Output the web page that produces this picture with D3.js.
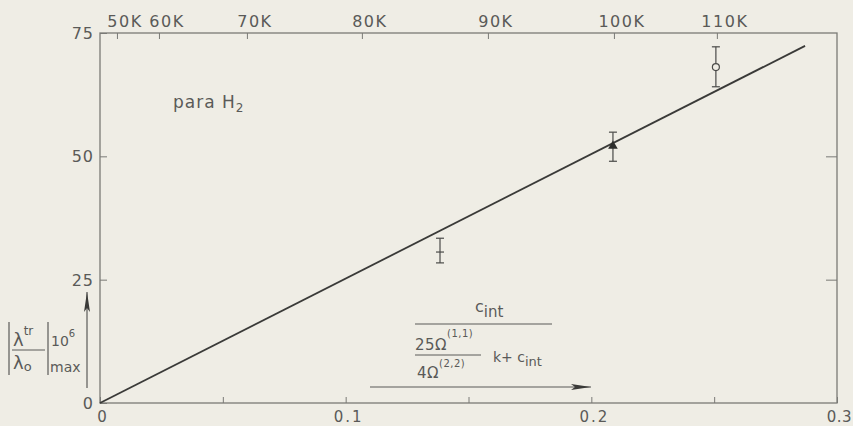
<!DOCTYPE html>
<html>
<head>
<meta charset="utf-8">
<script src="https://cdn.jsdelivr.net/npm/d3@7"></script>
<style>
  body { margin: 0; background: #efede5; }
  svg text { font-family: "DejaVu Sans", sans-serif; fill: #5a5a58; }
</style>
</head>
<body>
<script>
const w = 853;
const h = 426;

// bottom axis (reduced quantity), left axis (|lambda^tr/lambda_o| * 1e6)
const xTicks = [0, 0.1, 0.2, 0.3];
const xTickLabels = ["0", "0.1", "0.2", "0.3"];
const xMinorTicks = [0.05, 0.15, 0.25];
const yTicks = [0, 25, 50, 75];

// temperature scale on top, placed at the matching x value
const tempLabels = ["50K", "60K", "70K", "80K", "90K", "100K", "110K"];
const tempAt = [0.0069, 0.024, 0.0598, 0.1066, 0.1579, 0.2092, 0.2511];

// measured points with error bars
const pointX = [0.1384, 0.2088, 0.2507];
const pointY = [30.6, 52.1, 68.1];
const pointLo = [28.4, 49.0, 64.1];
const pointHi = [33.4, 54.9, 72.2];
const pointMark = ["cross", "triangle", "circle"];

// theoretical straight line
const lineX = [0, 0.287];
const lineY = [0, 72.4];

const ink = "#5a5a58";
const frame = "#7a7a76";

const svg = d3.select("body")
    .append("svg")
    .attr("width", w)
    .attr("height", h);

const x = d3.scaleLinear().domain([0, 0.3]).range([100, 837]);
const y = d3.scaleLinear().domain([0, 75]).range([403, 33]);

// frame
svg.append("rect")
    .attr("x", x(0)).attr("y", y(75))
    .attr("width", x(0.3) - x(0)).attr("height", y(0) - y(75))
    .attr("fill", "none")
    .attr("stroke", frame)
    .attr("stroke-width", 1.3);

// bottom axis, ticks pointing inward
const xAxis = d3.axisBottom(x)
    .tickValues(xTicks.concat(xMinorTicks))
    .tickSize(-6)
    .tickFormat("");
svg.append("g")
    .attr("transform", "translate(0," + y(0) + ")")
    .call(xAxis)
    .call(g => g.select(".domain").remove())
    .call(g => g.selectAll("line").attr("stroke", frame));

// last label would run off the right edge, so pin it there
svg.selectAll(".xlab")
    .data(xTicks)
    .enter().append("text")
    .attr("class", "xlab")
    .attr("x", (d, i) => i === xTicks.length - 1 ? w - 1 : x(d) + 3)
    .attr("y", 422)
    .attr("text-anchor", (d, i) => i === xTicks.length - 1 ? "end" : "middle")
    .attr("font-size", 15)
    .attr("letter-spacing", (d, i) => i === xTicks.length - 1 ? 0.5 : 2)
    .text((d, i) => xTickLabels[i]);

// left axis
const yAxis = d3.axisLeft(y)
    .tickValues(yTicks)
    .tickSize(-7)
    .tickFormat("");
svg.append("g")
    .attr("transform", "translate(" + x(0) + ",0)")
    .call(yAxis)
    .call(g => g.select(".domain").remove())
    .call(g => g.selectAll("line").attr("stroke", frame));

svg.selectAll(".ylab")
    .data(yTicks)
    .enter().append("text")
    .attr("class", "ylab")
    .attr("x", 94)
    .attr("y", d => y(d) + 6)
    .attr("text-anchor", "end")
    .attr("font-size", 16)
    .attr("letter-spacing", 1)
    .text(d => d);

// right axis ticks
const yRight = d3.axisRight(y)
    .tickValues([25, 50])
    .tickSize(-11)
    .tickFormat("");
svg.append("g")
    .attr("transform", "translate(" + x(0.3) + ",0)")
    .call(yRight)
    .call(g => g.select(".domain").remove())
    .call(g => g.selectAll("line").attr("stroke", frame));

// top temperature axis
const topAxis = d3.axisTop(x)
    .tickValues(tempAt)
    .tickSize(-6)
    .tickFormat("");
svg.append("g")
    .attr("transform", "translate(0," + y(75) + ")")
    .call(topAxis)
    .call(g => g.select(".domain").remove())
    .call(g => g.selectAll("line").attr("stroke", frame));

svg.selectAll(".tlab")
    .data(tempAt)
    .enter().append("text")
    .attr("class", "tlab")
    .attr("x", d => x(d) + 8)
    .attr("y", 27)
    .attr("text-anchor", "middle")
    .attr("font-size", 16)
    .attr("letter-spacing", 1.5)
    .text((d, i) => tempLabels[i]);

// straight line
const line = d3.line()
    .x(d => x(d[0]))
    .y(d => y(d[1]));
svg.append("path")
    .datum(lineX.map((d, i) => [d, lineY[i]]))
    .attr("d", line)
    .attr("fill", "none")
    .attr("stroke", "#3a3a38")
    .attr("stroke-width", 1.8);

// error bars and markers
const pts = pointX.map((d, i) => ({x: d, y: pointY[i], lo: pointLo[i], hi: pointHi[i], m: pointMark[i]}));
const pg = svg.selectAll(".pt")
    .data(pts)
    .enter().append("g")
    .attr("class", "pt")
    .attr("stroke", "#4a4a48")
    .attr("stroke-width", 1.2);

pg.append("line")
    .attr("x1", d => x(d.x)).attr("x2", d => x(d.x))
    .attr("y1", d => y(d.lo)).attr("y2", d => y(d.hi));
pg.append("line")
    .attr("x1", d => x(d.x) - 4).attr("x2", d => x(d.x) + 4)
    .attr("y1", d => y(d.lo)).attr("y2", d => y(d.lo));
pg.append("line")
    .attr("x1", d => x(d.x) - 4).attr("x2", d => x(d.x) + 4)
    .attr("y1", d => y(d.hi)).attr("y2", d => y(d.hi));

pg.filter(d => d.m === "cross").append("line")
    .attr("x1", d => x(d.x) - 4).attr("x2", d => x(d.x) + 4)
    .attr("y1", d => y(d.y)).attr("y2", d => y(d.y));
pg.filter(d => d.m === "triangle").append("path")
    .attr("d", d3.symbol().type(d3.symbolTriangle).size(40))
    .attr("transform", d => "translate(" + x(d.x) + "," + y(d.y) + ")")
    .attr("fill", "#2e2e2c")
    .attr("stroke", "none");
pg.filter(d => d.m === "circle").append("circle")
    .attr("cx", d => x(d.x)).attr("cy", d => y(d.y))
    .attr("r", 3.5)
    .attr("fill", "#efede5");

// "para H2"
const para = svg.append("text")
    .attr("x", 173).attr("y", 108)
    .attr("font-size", 17)
    .attr("letter-spacing", 1);
para.append("tspan").text("para H");
para.append("tspan").attr("font-size", 12).attr("dy", 4).text("2");

// y label |lambda^tr / lambda_o|_max 10^6
const yl = svg.append("g");
yl.append("line").attr("x1", 9).attr("x2", 9).attr("y1", 322).attr("y2", 375).attr("stroke", ink).attr("stroke-width", 1.2);
yl.append("line").attr("x1", 48).attr("x2", 48).attr("y1", 322).attr("y2", 375).attr("stroke", ink).attr("stroke-width", 1.2);
yl.append("line").attr("x1", 12).attr("x2", 45).attr("y1", 350).attr("y2", 350).attr("stroke", ink).attr("stroke-width", 1);
const num = yl.append("text").attr("x", 13).attr("y", 346).attr("font-size", 18);
num.append("tspan").text("λ");
num.append("tspan").attr("font-size", 12).attr("dy", -11).text("tr");
const den = yl.append("text").attr("x", 13).attr("y", 369).attr("font-size", 18);
den.append("tspan").text("λ");
den.append("tspan").attr("font-size", 13).attr("dy", 2).text("o");
const ten = yl.append("text").attr("x", 51).attr("y", 346).attr("font-size", 14);
ten.append("tspan").text("10");
ten.append("tspan").attr("font-size", 10).attr("dy", -9).text("6");
yl.append("text").attr("x", 50).attr("y", 372).attr("font-size", 14).text("max");

// arrows
svg.append("defs").append("marker")
    .attr("id", "ah")
    .attr("viewBox", "0 0 20 6")
    .attr("refX", 20).attr("refY", 3)
    .attr("markerWidth", 20).attr("markerHeight", 6)
    .attr("markerUnits", "userSpaceOnUse")
    .attr("orient", "auto")
    .append("path")
    .attr("d", "M0,0 L20,3 L0,6 L4,3 Z")
    .attr("fill", "#3a3a38");

svg.append("line")
    .attr("x1", 87).attr("x2", 87).attr("y1", 388).attr("y2", 292)
    .attr("stroke", ink).attr("stroke-width", 1.2)
    .attr("marker-end", "url(#ah)");

svg.append("line")
    .attr("x1", 370).attr("x2", 591).attr("y1", 387).attr("y2", 387)
    .attr("stroke", ink).attr("stroke-width", 1.2)
    .attr("marker-end", "url(#ah)");

// formula c_int / (25 Omega(1,1) / 4 Omega(2,2) k + c_int)
const f = svg.append("g");
const c1 = f.append("text").attr("x", 475).attr("y", 312).attr("font-size", 16);
c1.append("tspan").text("c");
c1.append("tspan").attr("font-size", 15).attr("dy", 5).text("int");
f.append("line").attr("x1", 415).attr("x2", 552).attr("y1", 324).attr("y2", 324).attr("stroke", ink).attr("stroke-width", 1.2);
const n25 = f.append("text").attr("x", 415).attr("y", 350).attr("font-size", 15).attr("letter-spacing", 0.5);
n25.append("tspan").text("25Ω");
n25.append("tspan").attr("font-size", 10).attr("dy", -13).text("(1,1)");
f.append("line").attr("x1", 415).attr("x2", 481).attr("y1", 355).attr("y2", 355).attr("stroke", ink).attr("stroke-width", 1);
const d4 = f.append("text").attr("x", 417).attr("y", 378).attr("font-size", 15).attr("letter-spacing", 0.5);
d4.append("tspan").text("4Ω");
d4.append("tspan").attr("font-size", 10).attr("dy", -11).text("(2,2)");
const kc = f.append("text").attr("x", 493).attr("y", 362).attr("font-size", 14);
kc.append("tspan").text("k+ c");
kc.append("tspan").attr("font-size", 13).attr("dy", 4).text("int");
</script>
</body>
</html>
